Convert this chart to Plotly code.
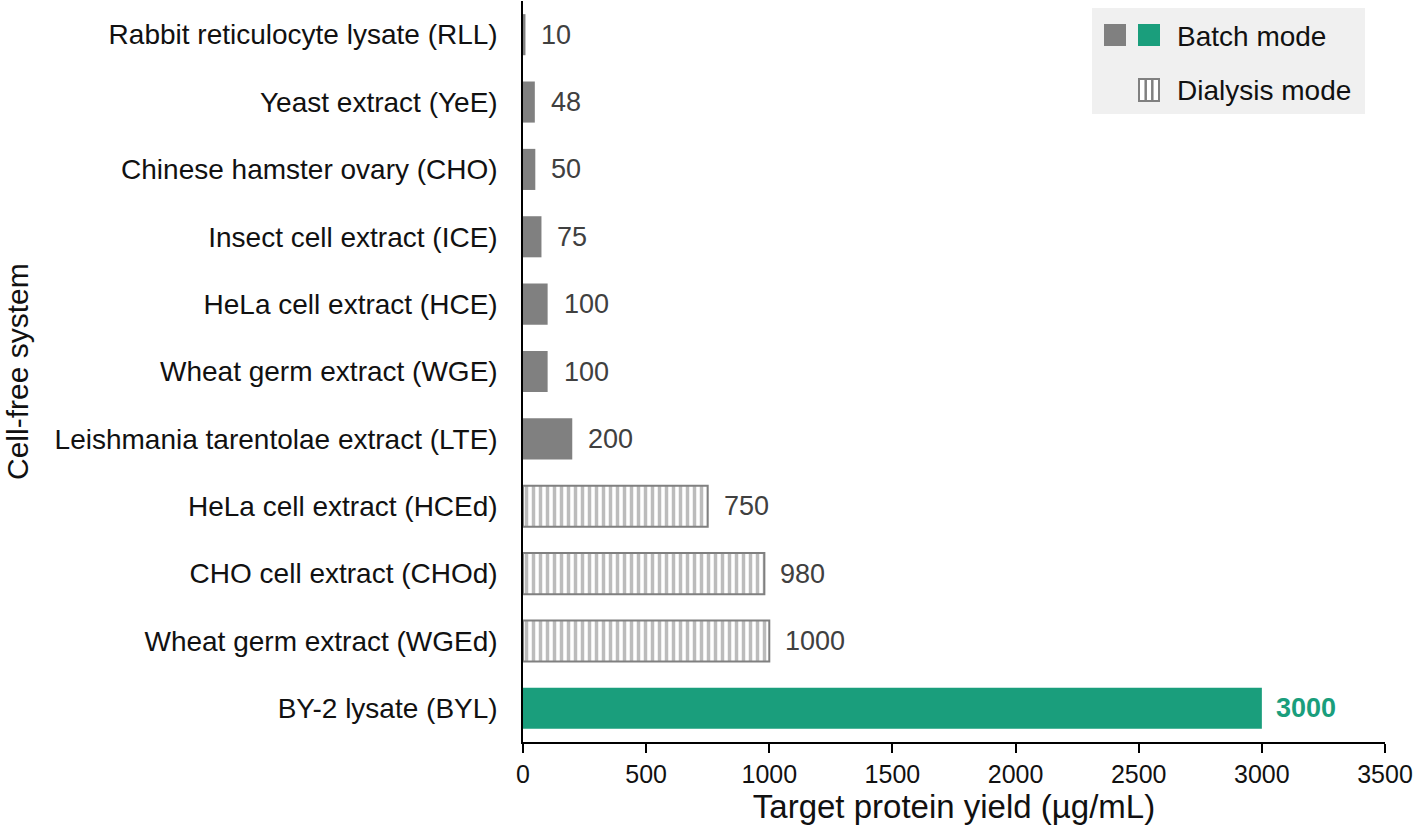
import plotly.graph_objects as go

categories = [
    "Rabbit reticulocyte lysate (RLL)",
    "Yeast extract (YeE)",
    "Chinese hamster ovary (CHO)",
    "Insect cell extract (ICE)",
    "HeLa cell extract (HCE)",
    "Wheat germ extract (WGE)",
    "Leishmania tarentolae extract (LTE)",
    "HeLa cell extract (HCEd)",
    "CHO cell extract (CHOd)",
    "Wheat germ extract (WGEd)",
    "BY-2 lysate (BYL)",
]
batch_cats = categories[:7]
batch_vals = [10, 48, 50, 75, 100, 100, 200]
dialysis_cats = categories[7:10]
dialysis_vals = [750, 980, 1000]
byl_cats = categories[10:]
byl_vals = [3000]
x_ticks = [0, 500, 1000, 1500, 2000, 2500, 3000, 3500]

GRAY = "#808080"
GREEN = "#1a9e7c"
FONT = "Liberation Sans, Arial, sans-serif"
W, H = 1417, 839
L, R, T, B = 523, 32, 1, 97

fig = go.Figure()
fig.add_trace(go.Bar(y=batch_cats, x=batch_vals, orientation="h",
                     marker=dict(color=GRAY, line=dict(width=0)), showlegend=False))
fig.add_trace(go.Bar(y=dialysis_cats, x=dialysis_vals, orientation="h",
                     marker=dict(color="white", line=dict(color=GRAY, width=2),
                                 pattern=dict(shape="|", fgcolor="#7a7a7a", bgcolor="white",
                                              size=7, solidity=0.5, fillmode="overlay")),
                     showlegend=False))
fig.add_trace(go.Bar(y=byl_cats, x=byl_vals, orientation="h",
                     marker=dict(color=GREEN, line=dict(width=0)), showlegend=False))

annotations = []
for c, v in zip(batch_cats + dialysis_cats, batch_vals + dialysis_vals):
    annotations.append(dict(x=v, y=c, xref="x", yref="y", text=str(v), showarrow=False,
                            xanchor="left", yanchor="middle", xshift=14,
                            font=dict(family=FONT, size=27, color="#404040")))
for c, v in zip(byl_cats, byl_vals):
    annotations.append(dict(x=v, y=c, xref="x", yref="y", text="<b>%d</b>" % v, showarrow=False,
                            xanchor="left", yanchor="middle", xshift=12,
                            font=dict(family=FONT, size=27, color=GREEN)))

pw, ph = W - L - R, H - T - B
def px(x):
    return (x - L) / pw
def py(y):
    return (H - B - y) / ph

# y axis title
annotations.append(dict(x=px(18), y=py(372), xref="paper", yref="paper", text="Cell-free system",
                        textangle=-90, showarrow=False, xanchor="center", yanchor="middle",
                        font=dict(family=FONT, size=30, color="#111111")))

# legend
shapes = []
shapes.append(dict(type="rect", xref="paper", yref="paper", x0=px(1092), x1=px(1365),
                   y0=py(114), y1=py(8), fillcolor="#f0f0f0", line=dict(width=0), layer="above"))
shapes.append(dict(type="rect", xref="paper", yref="paper", x0=px(1104), x1=px(1126),
                   y0=py(46), y1=py(24), fillcolor=GRAY, line=dict(width=0), layer="above"))
shapes.append(dict(type="rect", xref="paper", yref="paper", x0=px(1138), x1=px(1160),
                   y0=py(46), y1=py(24), fillcolor=GREEN, line=dict(width=0), layer="above"))
shapes.append(dict(type="rect", xref="paper", yref="paper", x0=px(1139), x1=px(1159),
                   y0=py(101), y1=py(79), fillcolor="white", line=dict(color=GRAY, width=2), layer="above"))
for xx in (1145.7, 1152.3):
    shapes.append(dict(type="line", xref="paper", yref="paper", x0=px(xx), x1=px(xx),
                       y0=py(101), y1=py(79), line=dict(color=GRAY, width=2.5), layer="above"))
annotations.append(dict(x=px(1175), y=py(36), xref="paper", yref="paper", text="Batch mode",
                        showarrow=False, xanchor="left", yanchor="middle",
                        font=dict(family=FONT, size=28, color="#111111")))
annotations.append(dict(x=px(1175), y=py(90), xref="paper", yref="paper", text="Dialysis mode",
                        showarrow=False, xanchor="left", yanchor="middle",
                        font=dict(family=FONT, size=28, color="#111111")))

fig.update_layout(
    width=W, height=H,
    margin=dict(l=L, r=R, t=T, b=B, pad=0),
    plot_bgcolor="white", paper_bgcolor="white",
    bargap=0.39, barmode="overlay",
    font=dict(family=FONT, size=24, color="#111111"),
    annotations=annotations, shapes=shapes,
    xaxis=dict(range=[0, 3500], tickvals=x_ticks, ticktext=[str(t) for t in x_ticks],
               showgrid=False, zeroline=False, showline=True, linecolor="black", linewidth=1.5,
               ticks="outside", ticklen=9, tickwidth=1.5, tickcolor="black",
               tickfont=dict(family=FONT, size=25, color="#111111"),
               title=dict(text="Target protein yield (µg/mL)", standoff=8,
                          font=dict(family=FONT, size=33, color="#111111"))),
    yaxis=dict(categoryorder="array", categoryarray=categories, autorange="reversed",
               showgrid=False, zeroline=False, showline=True, linecolor="black", linewidth=1.5,
               ticks="", ticklabelstandoff=18,
               tickfont=dict(family=FONT, size=28, color="#111111")),
)

fig.write_html("out.html", config={"displayModeBar": False},
               post_script="document.body.style.margin='0px';")
